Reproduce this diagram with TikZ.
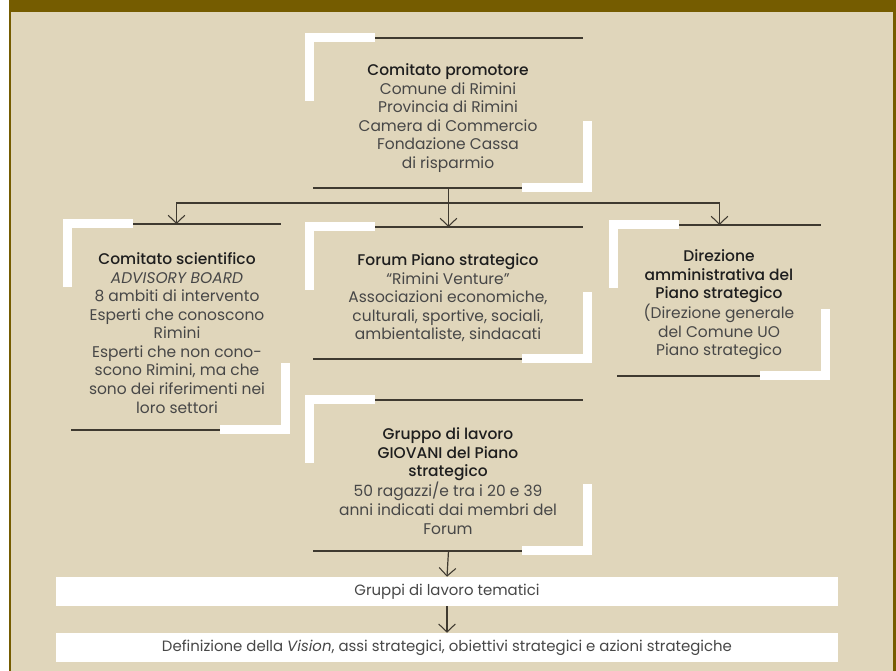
\documentclass[tikz,border=0pt]{standalone}
\usepackage{fontspec}
\setmainfont{Poppins}[BoldFont={Poppins Medium}]
\usetikzlibrary{arrows.meta,positioning}
\definecolor{Sabbia}{HTML}{E0D6BB}
\definecolor{Oliva}{HTML}{755C00}
\definecolor{Linea}{HTML}{3F3A30}
\definecolor{Testo}{HTML}{474747}
\definecolor{Titolo}{HTML}{1E1E1E}
\newcommand{\tit}[1]{{\color{Titolo}\bfseries #1}}
% cornice bianca ad angoli: nome, sinistra, alto, destra, basso (px)
\newcommand{\cornice}[5]{%
  \draw[riga] (#2+70,#3+5) -- (#4-9,#3+5);
  \draw[riga] (#2+8,#5-4) -- (#4-70,#5-4);
  \draw[angolo] (#2+70,#3+4.5) -- (#2+4.5,#3+4.5) -- (#2+4.5,#3+68);
  \draw[angolo] (#4-70,#5-4.5) -- (#4-4.5,#5-4.5) -- (#4-4.5,#5-71);
  \coordinate (#1-alto) at ({(#2+#4)/2},#3+5);
  \coordinate (#1-basso) at ({(#2+#4)/2},#5-4);
}
\tikzset{
  riga/.style    = {draw=Linea, line width=0.9pt},
  angolo/.style  = {draw=white, line width=6.75pt, miter limit=10},
  freccia/.style = {riga, -{Straight Barb[length=6pt,width=12.5pt,line width=0.8pt]}},
  testo/.style   = {align=center, text=Testo, inner sep=0pt,
                    font=\fontsize{11.6}{13.9}\selectfont},
  barra/.style   = {fill=white, text=Testo, inner sep=0pt,
                    minimum width=782*0.75pt, minimum height=29*0.75pt,
                    font=\fontsize{11.2}{13}\selectfont},
}

\begin{document}
\begin{tikzpicture}[x=0.75pt, y=-0.75pt]
  \useasboundingbox (0,0) rectangle (896,671);
  \fill[white] (0,0) rectangle (896,671);
  \fill[Oliva] (9,0) rectangle (896,671);
  \fill[Sabbia] (10.5,12) rectangle (893,671);

  \cornice{prom}{305}{33}{592}{192}
  \cornice{sci}{63}{219}{290}{434}
  \cornice{forum}{305}{222}{592}{363}
  \cornice{dir}{609}{220}{830}{380}
  \cornice{giov}{305}{395}{592}{555}

  \node[testo] (promotore) at (448,118) {\tit{Comitato promotore}\\Comune di Rimini\\
    Provincia di Rimini\\Camera di Commercio\\Fondazione Cassa\\di risparmio};
  \node[testo] (scientifico) at (177,333) {\tit{Comitato scientifico}\\\textit{ADVISORY BOARD}\\
    8 ambiti di intervento\\Esperti che conoscono\\Rimini\\Esperti che non cono-\\
    scono Rimini, ma che\\sono dei riferimenti nei\\loro settori};
  \node[testo] (forum) at (448,298) {\tit{Forum Piano strategico}\\``Rimini Venture''\\
    Associazioni economiche,\\culturali, sportive, sociali,\\ambientaliste, sindacati};
  \node[testo] (direzione) at (719,305) {\tit{Direzione}\\\tit{amministrativa del}\\
    \tit{Piano strategico}\\(Direzione generale\\del Comune UO\\Piano strategico};
  \node[testo] (giovani) at (448,481) {\tit{Gruppo di lavoro}\\\tit{GIOVANI del Piano}\\
    \tit{strategico}\\50 ragazzi/e tra i 20 e 39\\anni indicati dai membri del\\Forum};

  \node[barra] (temi) at (447,591.5) {Gruppi di lavoro tematici};
  \node[barra] (vision) at (447,647.5) {Definizione della \textit{Vision}, assi strategici,
    obiettivi strategici e azioni strategiche};

  \coordinate (snodo) at (448,203);
  \draw[riga] (prom-basso) -- (prom-basso |- snodo);
  \draw[freccia] (prom-basso |- snodo) -| (sci-alto);
  \draw[freccia] (prom-basso |- snodo) -| (dir-alto);
  \draw[freccia] (prom-basso |- snodo) -- (forum-alto);
  \draw[freccia] (giov-basso) -- (temi.north);
  \draw[freccia] (temi.south) -- (vision.north);
\end{tikzpicture}
\end{document}
